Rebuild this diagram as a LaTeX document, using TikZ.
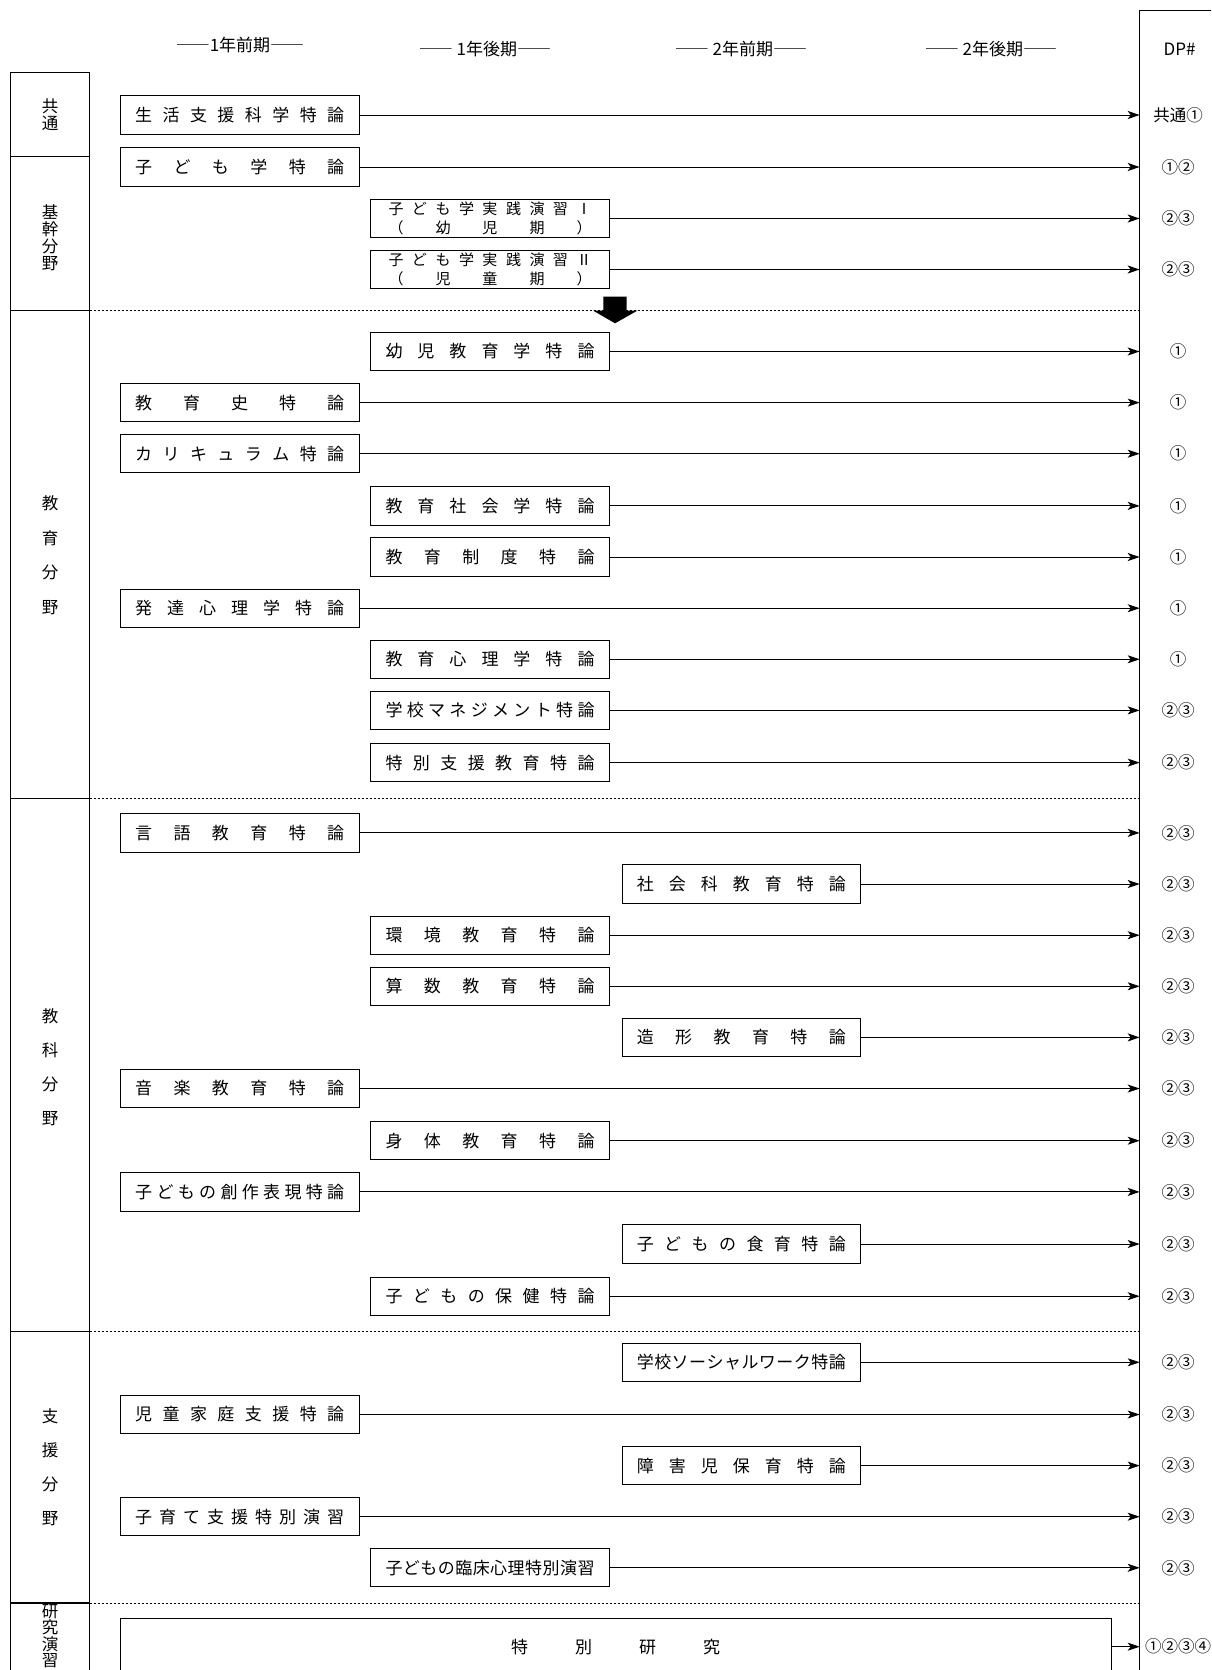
\documentclass[tikz,border=0pt]{standalone}
\usepackage{fontspec}
\setmainfont{Noto Sans CJK JP}
\usetikzlibrary{arrows.meta}
\def\mySpreadLoop#1#2{#1\ifx\relax#2\else\hfill\expandafter\mySpreadLoop\fi#2}
\newcommand\spreadtxt[2][209pt]{\hbox to #1{\mySpreadLoop#2\relax}}
\newcommand\courserow[5]{%
  \node[course] (#1) at (#2,#3) {\spreadtxt{#4}};
  \node[dptext] (#1dp) at (1178,#3) {#5};
  \draw[arr] (#1.east) -- (#1.east -| dpl);
}
\def\colL{239.7}
\def\colM{490}
\def\colR{741.3}
\begin{document}
\begin{tikzpicture}[x=1pt,y=-1pt,
  course/.style={draw, line width=1pt, minimum width=238.6pt, minimum height=38.3pt, inner sep=0pt, font=\fontsize{17pt}{20pt}\selectfont},
  dptext/.style={font=\fontsize{16.5pt}{18pt}\selectfont, inner sep=0pt},
  hdr/.style={font=\fontsize{17pt}{20pt}\selectfont, inner sep=0pt},
  arr/.style={line width=1pt, -{Stealth[length=12pt,width=8pt,inset=3pt]}},
  sepline/.style={line width=0.8pt, dash pattern=on 2pt off 2pt},
  frame/.style={line width=1.2pt},
  vlab/.style={align=center, inner sep=0pt}]
\useasboundingbox (0,0) rectangle (1211,1670);
\clip (0,0) rectangle (1211,1670);
\fill[white] (0,0) rectangle (1211,1670);
\coordinate (dpl) at (1139.7,0);
% headers
\node[hdr] (h1) at (240,45) {――1年前期――};
\node[hdr] (h2) at (485,49) {―― 1年後期――};
\node[hdr] (h3) at (741,49) {―― 2年前期――};
\node[hdr] (h4) at (991,49) {―― 2年後期――};
\node[hdr] (hdp) at (1179.5,49) {DP\#};
% DP column frame
\draw[frame] (1139.7,1690) -- (1139.7,10.6) -- (1230,10.6);
% left category column
\draw[frame] (10.6,1690) -- (10.6,72.4) -- (89.5,72.4) -- (89.5,1690);
\foreach \yy in {156.6,310.7,798.8,1331.4,1603} {
  \draw[frame] (10.6,\yy) -- (89.5,\yy);
}
\foreach \yy in {310.7,798.8,1331.4,1603} {
  \draw[sepline] (89.5,\yy) -- (1139.7,\yy);
}
% category labels
\node[vlab, font=\fontsize{16.5pt}{16.6pt}\selectfont] (k1) at (50,115) {共\\通};
\node[vlab, font=\fontsize{16.5pt}{17pt}\selectfont] (k2) at (50,238) {基\\幹\\分\\野};
\node[vlab, font=\fontsize{16.5pt}{34.5pt}\selectfont] (k3) at (50,555) {教\\育\\分\\野};
\node[vlab, font=\fontsize{16.5pt}{34pt}\selectfont] (k4) at (50,1067) {教\\科\\分\\野};
\node[vlab, font=\fontsize{16.5pt}{34pt}\selectfont] (k5) at (50,1467.5) {支\\援\\分\\野};
\node[vlab, font=\fontsize{16.5pt}{16.6pt}\selectfont, anchor=north] (k6) at (50,1604) {研\\究\\演\\習};
% courses
\courserow{c1}{\colL}{115}{生活支援科学特論}{共通①}
\courserow{c2}{\colL}{167}{子ども学特論}{①②}
\node[course, align=center, font=\fontsize{15pt}{18.5pt}\selectfont] (c3) at (\colM,218.5) {\spreadtxt[203pt]{子ども学実践演習Ⅰ}\\\spreadtxt[203pt]{（幼児期）}};
\node[dptext] (c3dp) at (1178,218.5) {②③};
\draw[arr] (c3.east) -- (c3.east -| dpl);
\node[course, align=center, font=\fontsize{15pt}{18.5pt}\selectfont] (c4) at (\colM,269.5) {\spreadtxt[203pt]{子ども学実践演習Ⅱ}\\\spreadtxt[203pt]{（児童期）}};
\node[dptext] (c4dp) at (1178,269.5) {②③};
\draw[arr] (c4.east) -- (c4.east -| dpl);
% block arrow
\fill (603.3,296.7) -- (626.7,296.7) -- (626.7,310.7) -- (637.3,310.7) -- (615,323.3) -- (593.3,310.7) -- (603.3,310.7) -- cycle;
\courserow{c5}{\colM}{351.5}{幼児教育学特論}{①}
\courserow{c6}{\colL}{402.6}{教育史特論}{①}
\courserow{c7}{\colL}{453.7}{カリキュラム特論}{①}
\courserow{c8}{\colM}{505.9}{教育社会学特論}{①}
\courserow{c9}{\colM}{557}{教育制度特論}{①}
\courserow{c10}{\colL}{608.2}{発達心理学特論}{①}
\courserow{c11}{\colM}{659.3}{教育心理学特論}{①}
\courserow{c12}{\colM}{710.4}{学校マネジメント特論}{②③}
\courserow{c13}{\colM}{762.6}{特別支援教育特論}{②③}
\courserow{c14}{\colL}{832.9}{言語教育特論}{②③}
\courserow{c15}{\colR}{884}{社会科教育特論}{②③}
\courserow{c16}{\colM}{935.2}{環境教育特論}{②③}
\courserow{c17}{\colM}{986.3}{算数教育特論}{②③}
\courserow{c18}{\colR}{1037.4}{造形教育特論}{②③}
\courserow{c19}{\colL}{1088.5}{音楽教育特論}{②③}
\courserow{c20}{\colM}{1140.7}{身体教育特論}{②③}
\courserow{c21}{\colL}{1191.9}{子どもの創作表現特論}{②③}
\courserow{c22}{\colR}{1244}{子どもの食育特論}{②③}
\courserow{c23}{\colM}{1296.2}{子どもの保健特論}{②③}
\courserow{c24}{\colR}{1362.3}{学校ソーシャルワーク特論}{②③}
\courserow{c25}{\colL}{1414.5}{児童家庭支援特論}{②③}
\courserow{c26}{\colR}{1465.6}{障害児保育特論}{②③}
\courserow{c27}{\colL}{1516.7}{子育て支援特別演習}{②③}
\courserow{c28}{\colM}{1567.8}{子どもの臨床心理特別演習}{②③}
% special research
\node[draw, line width=1pt, minimum width=990.6pt, minimum height=120pt, inner sep=0pt, anchor=north] (sp) at (615.7,1618) {};
\node[font=\fontsize{17pt}{20pt}\selectfont, inner sep=0pt] (sptxt) at (615.7,1646.7) {\spreadtxt{特別研究}};
\node[dptext] (spdp) at (1178,1646.7) {①②③④};
\draw[arr] (sp.east |- sptxt) -- (sptxt -| dpl);
\end{tikzpicture}
\end{document}
